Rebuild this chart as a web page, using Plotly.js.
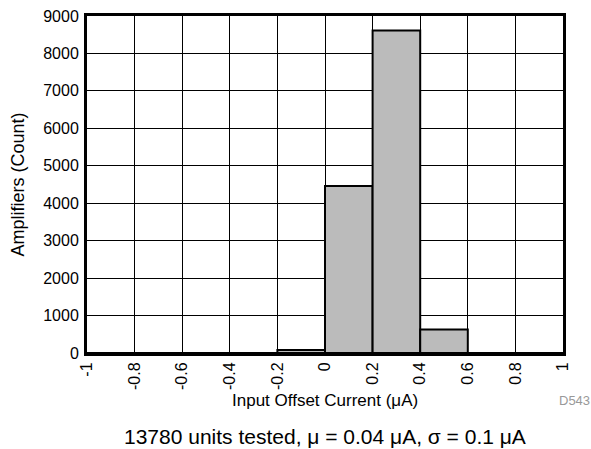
<!DOCTYPE html>
<html>
<head>
<meta charset="utf-8">
<script src="https://cdn.plot.ly/plotly-3.0.1.min.js"></script>
<style>html,body{margin:0;padding:0;background:#fff;}#chart{width:591px;height:449px;}</style>
</head>
<body>
<div id="chart"></div>
<script>
const binStarts = [-1, -0.8, -0.6, -0.4, -0.2, 0, 0.2, 0.4, 0.6, 0.8];
const counts = [0, 0, 0, 0, 80, 4460, 8610, 630, 0, 0];
const binWidth = 0.2;
const xTickVals = [-1, -0.8, -0.6, -0.4, -0.2, 0, 0.2, 0.4, 0.6, 0.8, 1];
const xTickText = ['-1', '-0.8', '-0.6', '-0.4', '-0.2', '0', '0.2', '0.4', '0.6', '0.8', '1'];
const yTickVals = [0, 1000, 2000, 3000, 4000, 5000, 6000, 7000, 8000, 9000];
const xTitle = 'Input Offset Current (μA)';
const yTitle = 'Amplifiers (Count)';
const caption = '13780 units tested, μ = 0.04 μA, σ = 0.1 μA';
const figId = 'D543';

const font = 'Liberation Sans, Arial, sans-serif';
const trace = {
  type: 'bar',
  x: binStarts,
  y: counts,
  width: binStarts.map(() => binWidth),
  offset: 0,
  marker: {color: '#bbbbbb', line: {color: '#000', width: 2}},
  hoverinfo: 'none'
};
const layout = {
  width: 591, height: 449,
  margin: {l: 87, r: 28, t: 16, b: 96},
  paper_bgcolor: '#fff', plot_bgcolor: '#fff',
  showlegend: false,
  bargap: 0,
  font: {family: font, color: '#000', size: 16},
  xaxis: {
    range: [-1, 1], tickvals: xTickVals, ticktext: xTickText, tickangle: -90,
    showgrid: true, gridcolor: '#000', gridwidth: 1, zeroline: false,
    showline: true, linecolor: '#000', linewidth: 3, mirror: true,
    ticks: '', ticklen: 0, tickfont: {size: 16, family: font},
    fixedrange: true
  },
  yaxis: {
    range: [0, 9000], tickvals: yTickVals,
    showgrid: true, gridcolor: '#000', gridwidth: 1, zeroline: false,
    showline: true, linecolor: '#000', linewidth: 3, mirror: true,
    ticks: 'outside', ticklen: 2, tickcolor: 'rgba(0,0,0,0)', tickfont: {size: 16, family: font},
    fixedrange: true
  },
  annotations: [
    {text: xTitle, xref: 'paper', yref: 'paper', x: 0.5, y: -0.142, xanchor: 'center', yanchor: 'middle', showarrow: false, font: {size: 17, family: font}},
    {text: yTitle, xref: 'paper', yref: 'paper', x: -0.147, y: 0.5, xanchor: 'center', yanchor: 'middle', textangle: -90, showarrow: false, font: {size: 18, family: font}},
    {text: caption, xref: 'paper', yref: 'paper', x: 0.5, y: -0.249, xanchor: 'center', yanchor: 'middle', showarrow: false, font: {size: 21, family: font}},
    {text: figId, xref: 'paper', yref: 'paper', x: 1.06, y: -0.142, xanchor: 'right', yanchor: 'middle', showarrow: false, font: {size: 13, family: font, color: '#999'}}
  ]
};
Plotly.newPlot('chart', [trace], layout, {staticPlot: true, displayModeBar: false});
</script>
</body>
</html>
